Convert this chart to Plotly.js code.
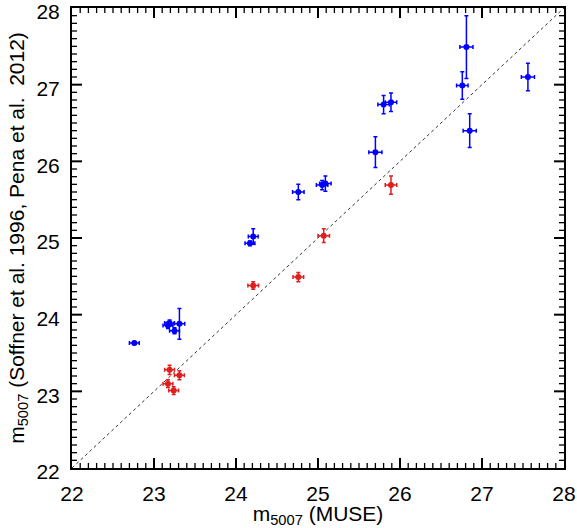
<!DOCTYPE html>
<html>
<head>
<meta charset="utf-8">
<script src="https://cdn.plot.ly/plotly-3.0.1.min.js"></script>
<style>html,body{margin:0;padding:0;background:#fff;}#plot{width:577px;height:528px;}</style>
</head>
<body>
<div id="plot"></div>
<script>
// Blue sample (above the 1:1 line)
const blueX    = [22.76, 23.19, 23.17, 23.25, 23.31, 24.21, 24.17, 24.76, 25.05, 25.09, 25.80, 25.89, 25.70, 26.81, 26.76, 26.85, 27.56];
const blueY    = [23.63, 23.89, 23.86, 23.79, 23.88, 25.02, 24.93, 25.60, 25.69, 25.71, 26.74, 26.77, 26.12, 27.49, 26.99, 26.40, 27.10];
const blueErrX = [0.06, 0.06, 0.06, 0.06, 0.065, 0.06, 0.06, 0.07, 0.07, 0.07, 0.07, 0.07, 0.08, 0.08, 0.07, 0.08, 0.08];
const blueErrY = [0.02, 0.04, 0.04, 0.04, 0.20, 0.10, 0.03, 0.10, 0.06, 0.10, 0.12, 0.12, 0.20, 0.41, 0.18, 0.22, 0.18];
// Red sample (near the 1:1 line)
const redX     = [23.19, 23.31, 23.17, 23.24, 25.07, 24.76, 24.21, 25.89];
const redY     = [23.28, 23.21, 23.10, 23.01, 25.03, 24.49, 24.38, 25.69];
const redErrX  = [0.06, 0.06, 0.06, 0.06, 0.07, 0.065, 0.065, 0.07];
const redErrY  = [0.06, 0.06, 0.05, 0.05, 0.09, 0.06, 0.05, 0.12];
// 1:1 reference line
const lineX = [22, 28];
const lineY = [22, 28];
// axis ticks
const tickVals = [22, 23, 24, 25, 26, 27, 28];
const minorStep = 0.1;
const axisRange = [22, 28];

const blue = 'rgb(0,0,255)';
const red = 'rgb(225,30,30)';
const FONT = 'Liberation Sans, Arial, sans-serif';

const traces = [
  {x: lineX, y: lineY, mode: 'lines', line: {color: '#333', width: 1, dash: 'dot'}, hoverinfo: 'skip'},
  {x: blueX, y: blueY, mode: 'markers', marker: {color: blue, size: 6}, cliponaxis: false,
   error_x: {type: 'data', array: blueErrX, color: blue, thickness: 1.5, width: 2},
   error_y: {type: 'data', array: blueErrY, color: blue, thickness: 1.5, width: 2}},
  {x: redX, y: redY, mode: 'markers', marker: {color: red, size: 6}, cliponaxis: false,
   error_x: {type: 'data', array: redErrX, color: red, thickness: 1.5, width: 2},
   error_y: {type: 'data', array: redErrY, color: red, thickness: 1.5, width: 2}}
];

// Inward tick marks on all four sides, placed by the axes' own scales
const shapes = [];
function addTicks(v, len, w) {
  const ln = {color: '#000', width: w};
  // bottom and top (x ticks)
  shapes.push({type: 'line', layer: 'above', xref: 'x', x0: v, x1: v, yref: 'paper', ysizemode: 'pixel', yanchor: 0, y0: 0, y1: len, line: ln});
  shapes.push({type: 'line', layer: 'above', xref: 'x', x0: v, x1: v, yref: 'paper', ysizemode: 'pixel', yanchor: 1, y0: 0, y1: -len, line: ln});
  // left and right (y ticks)
  shapes.push({type: 'line', layer: 'above', yref: 'y', y0: v, y1: v, xref: 'paper', xsizemode: 'pixel', xanchor: 0, x0: 0, x1: len, line: ln});
  shapes.push({type: 'line', layer: 'above', yref: 'y', y0: v, y1: v, xref: 'paper', xsizemode: 'pixel', xanchor: 1, x0: 0, x1: -len, line: ln});
}
const nMinor = Math.round((axisRange[1] - axisRange[0]) / minorStep);
for (let i = 1; i < nMinor; i++) {
  const v = +(axisRange[0] + i * minorStep).toFixed(2);
  if (tickVals.indexOf(v) === -1) addTicks(v, 5, 1.3);
}
tickVals.slice(1, -1).forEach(function (v) { addTicks(v, 10, 2); });

function mainAxis(titleText, standoff, shift) {
  return {
    range: axisRange.slice(), autorange: false,
    tickmode: 'array', tickvals: tickVals.slice(), ticktext: tickVals.map(String),
    ticks: '', 
    showline: true, linewidth: 2, linecolor: '#000', mirror: true,
    showgrid: false, zeroline: false,
    ticklabeloverflow: 'allow',
    ticklabelshift: shift,
    ticklabelstandoff: 6,
    tickfont: {family: FONT, size: 21, color: '#000'},
    title: {text: titleText, font: {family: FONT, size: 21, color: '#000'}, standoff: standoff}
  };
}

const layout = {
  width: 577, height: 528,
  margin: {l: 72, r: 13, t: 8, b: 60},
  paper_bgcolor: '#fff', plot_bgcolor: '#fff',
  showlegend: false,
  font: {family: FONT, color: '#000'},
  xaxis: mainAxis('m<sub>5007</sub> (MUSE)', 2, 0),
  yaxis: mainAxis('m<sub>5007</sub> (Soffner et al. 1996, Pena et al.  2012)', 6, 4),
  shapes: shapes
};

Plotly.newPlot('plot', traces, layout, {displayModeBar: false, staticPlot: true});
</script>
</body>
</html>
